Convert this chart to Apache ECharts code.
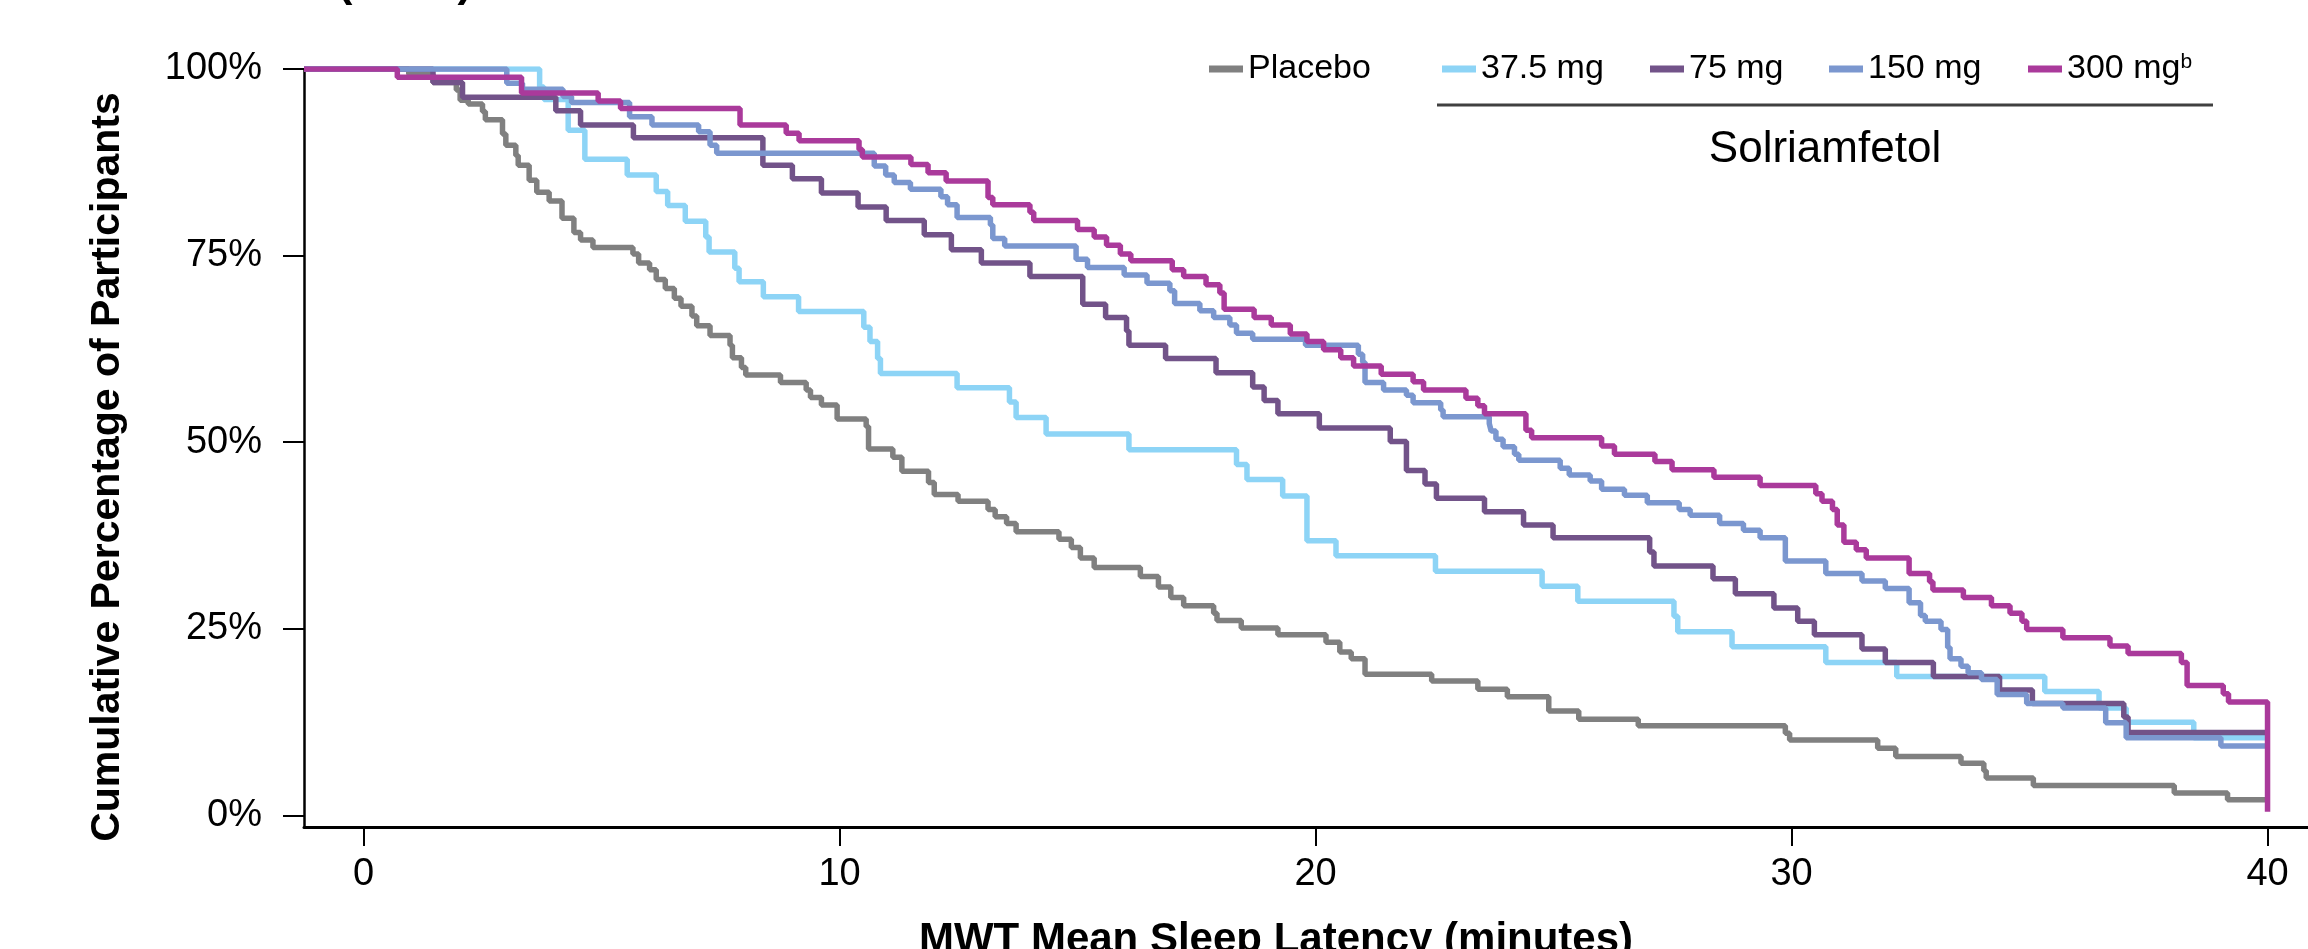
<!DOCTYPE HTML>
<html>
<head>
	<meta charset="utf-8">
	<title>MWT Mean Sleep Latency</title>
	<script src="https://cdn.jsdelivr.net/npm/echarts/dist/echarts.min.js"></script>
	<style>
		body { margin: 0; background: #fff; }
		#main { width: 2308px; height: 949px; }
	</style>
	<script type="text/javascript">
		// [minutes, cumulative % of participants]
		var placebo = [[-1.25,100],[0.95,99.3],[1.46,98.2],[1.95,97.2],[2.03,95.8],[2.20,95.3],[2.50,94.3],[2.56,93.2],[2.92,91.3],[2.99,89.8],[3.20,88.4],[3.25,87.1],[3.48,85.1],[3.64,83.5],[3.90,82.3],[4.17,80.0],[4.42,78.1],[4.56,77.1],[4.82,76.1],[5.66,75.2],[5.78,74.0],[6.01,73.1],[6.15,71.8],[6.34,70.6],[6.53,69.3],[6.67,68.2],[6.90,66.9],[7.00,65.6],[7.28,64.3],[7.70,63.0],[7.75,61.3],[7.94,60.0],[8.03,59.0],[8.76,58.0],[9.30,57.0],[9.39,56.0],[9.62,55.0],[9.95,53.1],[10.56,52.1],[10.61,49.1],[11.12,48.0],[11.31,46.1],[11.87,44.6],[11.99,43.0],[12.49,42.1],[13.12,41.0],[13.27,40.0],[13.51,39.1],[13.71,38.0],[14.61,37.0],[14.87,35.9],[15.06,34.5],[15.35,33.2],[16.32,32.0],[16.70,30.6],[16.96,29.2],[17.23,28.1],[17.86,27.1],[17.93,26.1],[18.44,25.1],[19.21,24.2],[20.22,23.2],[20.51,21.9],[20.75,21.0],[21.04,18.9],[22.44,18.0],[23.41,16.9],[24.03,15.9],[24.90,14.0],[25.53,12.9],[26.78,12.0],[29.87,11.0],[29.96,10.1],[31.81,9.0],[32.19,7.9],[33.56,7.0],[34.04,6.0],[34.09,5.0],[35.08,4.0],[38.04,3.0],[39.16,2.1],[40,2.1]];
		var dose375 = [[-1.25,100],[3.70,97.6],[3.79,95.9],[4.30,91.8],[4.65,87.9],[5.54,85.8],[6.15,83.6],[6.39,81.7],[6.76,79.6],[7.19,77.5],[7.26,75.5],[7.80,73.3],[7.89,71.5],[8.40,69.5],[9.14,67.5],[10.51,65.4],[10.64,63.5],[10.80,61.2],[10.86,59.2],[12.47,57.3],[13.57,55.4],[13.71,53.3],[14.34,51.1],[16.08,49.0],[18.34,47.0],[18.56,45.0],[19.31,42.8],[19.82,36.8],[20.43,34.8],[22.52,32.7],[24.76,30.7],[25.51,28.7],[27.53,26.7],[27.61,24.6],[28.75,22.6],[30.72,20.5],[32.21,18.6],[35.32,16.6],[36.46,14.4],[37.03,12.5],[38.45,10.4],[40,10.4]];
		var dose75 = [[-1.25,100],[1.46,98.2],[2.08,96.2],[4.04,94.4],[4.56,92.5],[5.67,90.8],[8.39,87.1],[9.01,85.3],[9.62,83.4],[10.39,81.5],[10.98,79.7],[11.78,77.8],[12.35,75.8],[12.98,74.0],[14.00,72.2],[15.11,68.5],[15.59,66.7],[16.03,64.9],[16.08,63.0],[16.85,61.2],[17.91,59.3],[18.68,57.4],[18.92,55.6],[19.21,53.8],[20.08,51.9],[21.57,50.1],[21.91,46.2],[22.30,44.4],[22.54,42.5],[23.55,40.7],[24.37,38.9],[24.99,37.2],[27.02,35.3],[27.11,33.4],[28.35,31.7],[28.82,29.7],[29.63,27.8],[30.13,26.0],[30.48,24.2],[31.48,22.3],[31.97,20.5],[32.98,18.6],[34.37,16.8],[35.06,15.0],[36.98,13.2],[37.07,11.1],[40,11.1]];
		var dose150 = [[-1.25,100],[3.01,98.1],[3.34,97.3],[4.19,96.3],[4.37,95.5],[5.59,93.6],[6.06,92.5],[7.04,91.6],[7.28,89.8],[7.42,88.7],[10.73,87.0],[10.97,85.8],[11.15,84.8],[11.49,83.9],[12.13,82.9],[12.27,81.8],[12.47,80.1],[13.17,79.1],[13.22,77.3],[13.47,76.3],[14.97,74.5],[15.21,73.4],[15.98,72.4],[16.46,71.3],[16.94,70.3],[17.04,68.6],[17.57,67.6],[17.86,66.7],[18.20,65.7],[18.34,64.6],[18.68,63.8],[19.79,63.0],[20.90,61.8],[20.99,60.7],[21.04,58.0],[21.43,57.0],[21.91,56.3],[22.05,55.3],[22.63,54.3],[22.68,53.4],[23.65,52.5],[23.69,51.5],[23.79,50.4],[23.94,49.4],[24.18,48.4],[24.27,47.6],[25.14,46.5],[25.33,45.6],[25.77,44.8],[26.01,43.7],[26.49,42.9],[26.97,41.9],[27.64,41.0],[27.87,40.2],[28.49,39.1],[28.99,38.2],[29.34,37.2],[29.87,34.1],[30.72,32.4],[31.48,31.4],[31.97,30.4],[32.47,28.5],[32.71,26.8],[32.81,26.0],[33.14,24.9],[33.28,22.5],[33.33,21.0],[33.56,20.0],[33.71,19.1],[33.99,18.2],[34.32,16.2],[34.94,15.0],[35.70,14.4],[36.60,12.4],[37.03,10.4],[39.02,9.3],[40,9.3]];
		var dose300 = [[-1.25,100],[0.71,98.9],[3.32,96.8],[4.93,95.7],[5.40,94.7],[7.91,92.5],[8.88,91.4],[9.15,90.4],[10.41,89.2],[10.48,88.2],[11.50,87.2],[11.86,86.1],[12.24,85.0],[13.12,82.8],[13.22,81.8],[14.00,80.8],[14.08,79.7],[15.00,78.5],[15.35,77.5],[15.61,76.4],[15.90,75.2],[16.12,74.3],[16.99,73.1],[17.23,72.2],[17.70,71.1],[17.99,70.0],[18.08,67.8],[18.71,66.7],[19.07,65.7],[19.47,64.5],[19.82,63.5],[20.17,62.4],[20.53,61.3],[20.80,60.2],[21.38,59.1],[22.05,58.1],[22.27,57.0],[23.16,55.9],[23.41,54.9],[23.55,53.8],[24.42,51.6],[24.54,50.6],[26.01,49.5],[26.28,48.4],[27.13,47.4],[27.49,46.3],[28.37,45.3],[29.34,44.2],[30.51,43.1],[30.64,42.1],[30.86,41.0],[30.96,38.9],[31.10,36.6],[31.36,35.6],[31.57,34.5],[32.47,32.4],[32.90,31.3],[32.97,30.2],[33.61,29.2],[34.20,28.1],[34.59,27.1],[34.84,26.0],[34.94,24.9],[35.70,23.8],[36.69,22.7],[37.07,21.7],[38.19,20.5],[38.31,17.4],[39.07,16.3],[39.18,15.2],[40,15.2],[40,0.5]];

		var seriesNames = ['Placebo', '37.5 mg', '75 mg', '150 mg', '300 mg'];
		var seriesColors = ['#808080', '#8dd4f6', '#725389', '#7b97cf', '#aa3a9b'];
		var xTicks = [0, 10, 20, 30, 40];
		var yTicks = [0, 25, 50, 75, 100];

		var FONT = "'Liberation Sans Narrow', 'Liberation Sans', sans-serif";

		window.onload = function() {
			var myChart = echarts.init(document.getElementById('main'));
			var allData = [placebo, dose375, dose75, dose150, dose300];
			var legendLeft = [1204, 1437, 1645, 1824, 2023];

			var series = [];
			var legends = [];
			for (var i = 0; i < seriesNames.length; i++) {
				series.push({
					name: seriesNames[i],
					type: 'line',
					step: 'end',
					data: allData[i],
					showSymbol: false,
					symbol: 'none',
					lineStyle: { color: seriesColors[i], width: 5.5 },
					itemStyle: { color: seriesColors[i] },
					emphasis: { disabled: true }
				});
				legends.push({
					data: [seriesNames[i]],
					left: legendLeft[i],
					top: 47,
					icon: 'rect',
					itemWidth: 34,
					itemHeight: 7,
					selectedMode: false,
					formatter: function(name) {
						return name == '300 mg' ? '{n|300 mg}{s|b}' : name;
					},
					textStyle: {
						fontFamily: FONT, fontSize: 34, color: '#000',
						rich: {
							n: { fontFamily: FONT, fontSize: 34, color: '#000' },
							s: { fontFamily: FONT, fontSize: 21, color: '#000', verticalAlign: 'top' }
						}
					}
				});
			}

			var option = {
				animation: false,
				backgroundColor: '#fff',
				grid: { left: 304, right: 0, top: 69, bottom: 122, outerBoundsMode: 'none' },
				legend: legends,
				xAxis: {
					type: 'value',
					min: -1.25,
					max: 40.85,
					splitLine: { show: false },
					axisLine: { onZero: false, lineStyle: { color: '#000', width: 3 } },
					axisTick: { customValues: xTicks, length: 19, lineStyle: { color: '#000', width: 2 } },
					axisLabel: { customValues: xTicks, margin: 29, fontFamily: FONT, fontSize: 38, color: '#000' },
					name: 'MWT Mean Sleep Latency (minutes)',
					nameLocation: 'middle',
					nameGap: 92,
					nameTextStyle: { fontFamily: FONT, fontSize: 42, fontWeight: 'bold', color: '#000', padding: [0, 60, 0, 0] }
				},
				yAxis: {
					type: 'value',
					min: -1.55,
					max: 100,
					splitLine: { show: false },
					axisLine: { show: true, onZero: false, lineStyle: { color: '#000', width: 2.5 } },
					axisTick: { show: true, customValues: yTicks, length: 21, lineStyle: { color: '#000', width: 2 } },
					axisLabel: {
						customValues: yTicks, margin: 42, fontFamily: FONT, fontSize: 38, color: '#000',
						formatter: function(v) { return v + '%'; }
					}
				},
				graphic: [
					{
						// y axis title, placed by hand
						type: 'text',
						x: 108, y: 467,
						rotation: Math.PI / 2,
						style: { text: 'Cumulative Percentage of Participants', font: 'bold 41px ' + FONT, fill: '#000', align: 'center', verticalAlign: 'middle' }
					},
					{
						type: 'line',
						shape: { x1: 1437, y1: 105, x2: 2213, y2: 105 },
						style: { stroke: '#404040', lineWidth: 3 }
					},
					{
						type: 'text',
						x: 1825, y: 150,
						style: { text: 'Solriamfetol', font: '44px ' + FONT, fill: '#000', align: 'center', verticalAlign: 'middle' }
					},
					{
						type: 'text',
						x: 405, y: 6,
						style: { text: '(MWT)', font: 'bold 44px ' + FONT, fill: '#000', align: 'center', verticalAlign: 'bottom' }
					}
				],
				series: series
			};
			myChart.setOption(option);
		}
	</script>
</head>
<body>
	<div id="main"></div>
</body>
</html>
